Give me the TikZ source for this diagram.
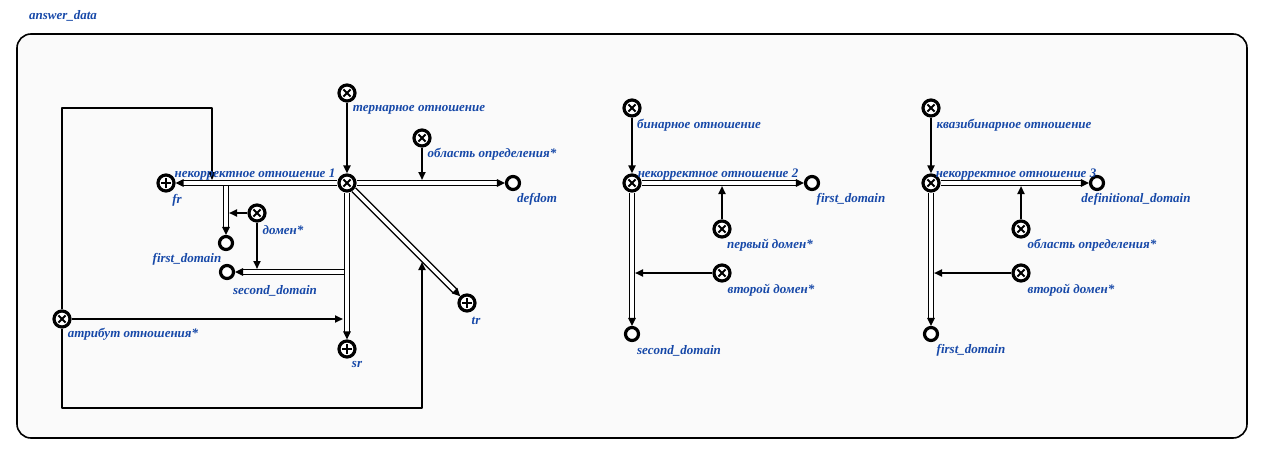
\documentclass[tikz,border=0pt]{standalone}
\usepackage{fontspec}
\setmainfont{Liberation Serif}
\usetikzlibrary{arrows.meta}
\definecolor{lblblue}{RGB}{22,72,168}
\tikzset{
  lbl/.style={font=\fontsize{13}{15}\selectfont\bfseries\itshape, text=lblblue, inner sep=0pt, yshift=-2.5pt},
  xnode/.style={circle, draw, line width=3.2pt, minimum size=16pt, inner sep=0pt, fill=white,
    path picture={
      \draw[line width=2pt] ([shift={(-3.6pt,-3.6pt)}]path picture bounding box.center) -- ([shift={(3.6pt,3.6pt)}]path picture bounding box.center);
      \draw[line width=2pt] ([shift={(-3.6pt,3.6pt)}]path picture bounding box.center) -- ([shift={(3.6pt,-3.6pt)}]path picture bounding box.center);}},
  pnode/.style={circle, draw, line width=3.2pt, minimum size=16pt, inner sep=0pt, fill=white,
    path picture={
      \draw[line width=2pt] ([shift={(-5pt,0pt)}]path picture bounding box.center) -- ([shift={(5pt,0pt)}]path picture bounding box.center);
      \draw[line width=2pt] ([shift={(0pt,-5pt)}]path picture bounding box.center) -- ([shift={(0pt,5pt)}]path picture bounding box.center);}},
  onode/.style={circle, draw, line width=3.2pt, minimum size=13pt, inner sep=0pt, fill=white},
  dbl/.style={double=white, double distance=3.6pt, line width=1.4pt, -{Triangle[length=8pt,width=7.5pt]}},
  arr/.style={line width=1.9pt, -{Triangle[length=8pt,width=7pt]}}
}
\begin{document}
\begin{tikzpicture}[x=1pt, y=-1pt, line join=round]
	\useasboundingbox (0,0) rectangle (1281,455);
	\draw[line width=1.6pt, rounded corners=14pt, fill=black!2] (17,34) rectangle (1247,438);
	\node[lbl] (title) at (63,13) {answer\_data};
	% first group
	\node[xnode] (rel1) at (347,183) {};
	\node[xnode] (tern) at (347,93) {};
	\node[xnode] (defd1) at (422,138) {};
	\node[xnode] (dom) at (257,213) {};
	\node[xnode] (attr) at (62,319) {};
	\node[pnode] (fr) at (166,183) {};
	\node[pnode] (tr) at (467,303) {};
	\node[pnode] (sr) at (347,349) {};
	\node[onode] (defdom) at (513,183) {};
	\node[onode] (fd1) at (226,243) {};
	\node[onode] (sd1) at (227,272) {};
	\coordinate (p1) at (212,180);
	\coordinate (p2) at (422,262);
	\coordinate (p3) at (343,319);
	\coordinate (p4) at (226,184);
	\coordinate (p5) at (345,272);
	\coordinate (p6) at (229,213);
	\coordinate (p7) at (257,269);
	\coordinate (p8) at (422,180);
	\draw[dbl] (p4) -- (fd1);
	\draw[dbl] (p5) -- (sd1);
	\draw[dbl] (rel1) -- (fr);
	\draw[dbl] (rel1) -- (defdom);
	\draw[dbl] (rel1) -- (tr);
	\draw[dbl] (rel1) -- (sr);
	\draw[arr] (tern) -- (rel1);
	\draw[arr] (defd1) -- (p8);
	\draw[arr] (dom) -- (p6);
	\draw[arr] (dom) -- (p7);
	\draw[arr] (attr) -- (p3);
	\draw[arr] (attr) -- (62,108) -| (p1);
	\draw[arr] (attr) -- (62,408) -| (p2);
	\node[lbl] at (255,172) {некорректное отношение 1};
	\node[lbl] at (419,107) {тернарное отношение};
	\node[lbl] at (492,152) {область определения*};
	\node[lbl] at (177,198) {fr};
	\node[lbl] at (283,228) {домен*};
	\node[lbl] at (187,257) {first\_domain};
	\node[lbl] at (275,288) {second\_domain};
	\node[lbl] at (537,197) {defdom};
	\node[lbl] at (476,318) {tr};
	\node[lbl] at (357,362) {sr};
	\node[lbl] at (133,332) {атрибут отношения*};
	% second group
	\node[xnode] (rel2) at (632,183) {};
	\node[xnode] (bin) at (632,108) {};
	\node[xnode] (first2) at (722,229) {};
	\node[xnode] (second2) at (722,273) {};
	\node[onode] (fd2) at (812,183) {};
	\node[onode] (sd2) at (632,334) {};
	\coordinate (q1) at (722,186);
	\coordinate (q2) at (635,273);
	\draw[dbl] (rel2) -- (fd2);
	\draw[dbl] (rel2) -- (sd2);
	\draw[arr] (bin) -- (rel2);
	\draw[arr] (first2) -- (q1);
	\draw[arr] (second2) -- (q2);
	\node[lbl] at (718,172) {некорректное отношение 2};
	\node[lbl] at (699,123) {бинарное отношение};
	\node[lbl] at (851,197) {first\_domain};
	\node[lbl] at (770,243) {первый домен*};
	\node[lbl] at (771,288) {второй домен*};
	\node[lbl] at (679,348) {second\_domain};
	% third group
	\node[xnode] (rel3) at (931,183) {};
	\node[xnode] (quasi) at (931,108) {};
	\node[xnode] (defd3) at (1021,229) {};
	\node[xnode] (second3) at (1021,273) {};
	\node[onode] (ddom) at (1097,183) {};
	\node[onode] (fd3) at (931,334) {};
	\coordinate (r1) at (1021,186);
	\coordinate (r2) at (934,273);
	\draw[dbl] (rel3) -- (ddom);
	\draw[dbl] (rel3) -- (fd3);
	\draw[arr] (quasi) -- (rel3);
	\draw[arr] (defd3) -- (r1);
	\draw[arr] (second3) -- (r2);
	\node[lbl] at (1016,172) {некорректное отношение 3};
	\node[lbl] at (1014,123) {квазибинарное отношение};
	\node[lbl] at (1136,197) {definitional\_domain};
	\node[lbl] at (1092,243) {область определения*};
	\node[lbl] at (1071,288) {второй домен*};
	\node[lbl] at (971,348) {first\_domain};
\end{tikzpicture}
\end{document}
